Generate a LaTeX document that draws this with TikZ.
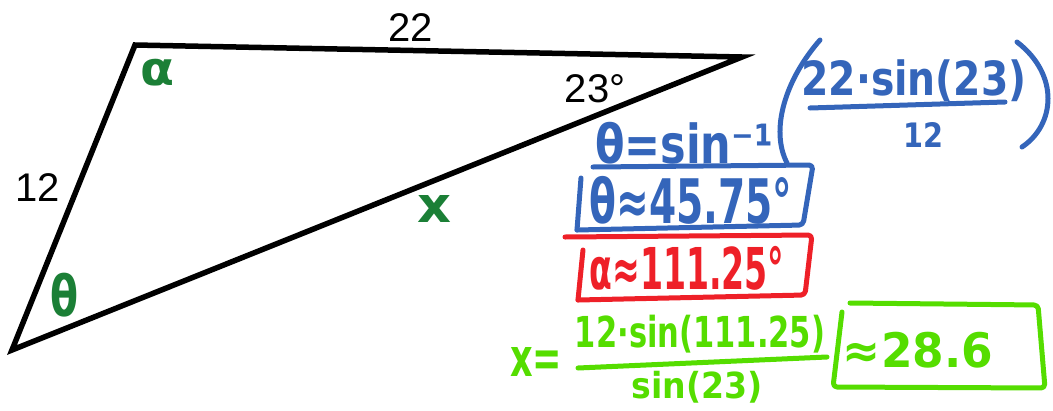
\documentclass[tikz,border=0pt]{standalone}
\usepackage{fontspec}
\setmainfont{Liberation Sans}
\newfontfamily\handfont{DejaVu Sans}[BoldFont={DejaVu Sans Bold}]
\usepackage{graphicx}
\definecolor{penblue}{HTML}{3465BA}
\definecolor{penred}{HTML}{EE2028}
\definecolor{pengreen}{HTML}{55DD00}
\definecolor{darkpen}{HTML}{1B7F36}
\newcommand{\hw}[3]{\resizebox*{#1pt}{#2pt}{\handfont\bfseries #3}}
\begin{document}
\begin{tikzpicture}[x=1pt,y=-1pt,
  tri/.style={line width=5.5pt,line join=miter,line cap=round},
  pen/.style={line width=5pt,line cap=round,line join=round,rounded corners=4pt},
  lbl/.style={inner sep=0pt,font=\fontsize{40}{40}\selectfont},
  hand/.style={inner sep=0pt,anchor=center}]
\useasboundingbox (0,0) rectangle (1053,410);
% triangle
\coordinate (A) at (135,45);
\coordinate (B) at (742,57);
\coordinate (C) at (12,350);
\draw[tri] (A) -- (B) -- (C) -- cycle;
\node[lbl] (l22) at (411,28) {22};
\node[lbl] (l12) at (38,188) {12};
\node[lbl] (l23) at (595,89) {23°};
\node[hand,text=darkpen] (ga) at (158,73) {\hw{34}{27}{α}};
\node[hand,text=darkpen] (gt) at (65,295) {\hw{28}{44}{θ}};
\node[hand,text=darkpen] (gx) at (434,209) {\hw{34}{27}{x}};
% blue work
\node[hand,text=penblue] (b1) at (684,143) {\hw{178}{42}{θ=sin⁻¹}};
\node[hand,text=penblue] (b2) at (914,81) {\hw{225}{42}{22·sin(23)}};
\node[hand,text=penblue] (b3) at (923,135) {\hw{40}{25}{12}};
\node[hand,text=penblue] (b4) at (691,200) {\hw{203}{48}{θ≈45.75°}};
\draw[pen,penblue] (810,108) -- (1005,102);
\draw[pen,penblue] (820,40) .. controls (785,80) and (770,130) .. (787,163);
\draw[pen,penblue] (1017,42) .. controls (1060,75) and (1055,125) .. (1022,147);
\draw[pen,penblue] (593,167) -- (813,165) -- (803,225) -- (577,230);
\draw[pen,penblue] (581,178) -- (577,230);
% red work
\node[hand,text=penred] (r1) at (687,268) {\hw{195}{44}{α≈111.25°}};
\draw[pen,penred] (565,237) -- (812,235) -- (805,295) -- (578,300);
\draw[pen,penred] (583,250) -- (578,300);
% green work
\node[hand,text=pengreen] (g1) at (536,362) {\hw{52}{29}{x=}};
\node[hand,text=pengreen] (g2) at (700,334) {\hw{250}{38}{12·sin(111.25)}};
\node[hand,text=pengreen] (g3) at (697,387) {\hw{131}{32}{sin(23)}};
\node[hand,text=pengreen] (g4) at (918,350) {\hw{150}{36}{≈28.6}};
\draw[pen,pengreen] (578,368) -- (827,357);
\draw[pen,pengreen] (850,303) -- (1038,305) -- (1045,388) -- (833,387) -- (842,312);
\end{tikzpicture}
\end{document}
